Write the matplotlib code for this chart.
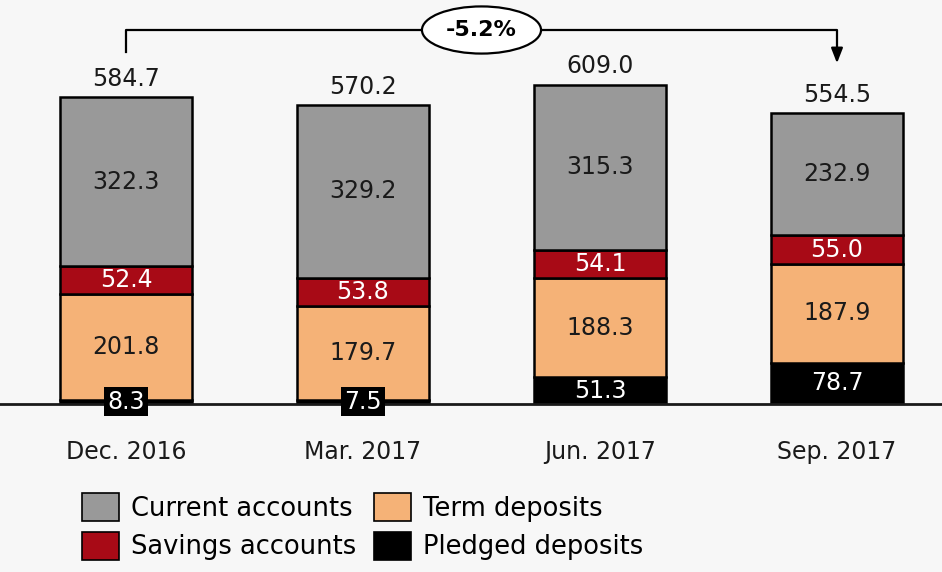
import matplotlib.pyplot as plt
import numpy as np
from matplotlib.patches import Patch

plt.rcParams["font.family"] = ["DejaVu Sans"]

periods = ["Dec. 2016", "Mar. 2017", "Jun. 2017", "Sep. 2017"]
pledged = np.array([8.3, 7.5, 51.3, 78.7])
term = np.array([201.8, 179.7, 188.3, 187.9])
savings = np.array([52.4, 53.8, 54.1, 55.0])
current = np.array([322.3, 329.2, 315.3, 232.9])
totals = np.array([584.7, 570.2, 609.0, 554.5])
change_label = "-5.2%"

c_current = "#999999"
c_savings = "#a80a16"
c_term = "#f5b277"
c_pledged = "#000000"
bg = "#f7f7f7"

fig = plt.figure(figsize=(9.42, 5.72), dpi=100, facecolor=bg)
ax = fig.add_axes([0, 168 / 572, 1, 404 / 572], facecolor=bg)

x = np.arange(len(periods))
width = 0.553

layers = [
    ("Pledged deposits", pledged, c_pledged),
    ("Term deposits", term, c_term),
    ("Savings accounts", savings, c_savings),
    ("Current accounts", current, c_current),
]

bottom = np.zeros(len(periods))
for name, vals, color in layers:
    ax.bar(x, vals, width, bottom=bottom, color=color, edgecolor="black",
           linewidth=1.8, label=name, zorder=2)
    for i, v in enumerate(vals):
        mid = bottom[i] + v / 2
        txt_color = "white" if color in (c_savings, c_pledged) else "#1a1a1a"
        if color == c_pledged and v < 20:
            # tiny segment: label sits in its own black box over the baseline
            ax.text(x[i], 4.5, f"{v:.1f}", ha="center", va="center",
                    fontsize=17, color="white", zorder=5,
                    bbox=dict(boxstyle="square,pad=0.12", fc="black", ec="none"))
        else:
            ax.text(x[i], mid, f"{v:.1f}", ha="center", va="center",
                    fontsize=17, color=txt_color, zorder=5)
    bottom += vals

for i, t in enumerate(totals):
    ax.text(x[i], t + 12, f"{t:.1f}", ha="center", va="bottom",
            fontsize=17, color="#1a1a1a")

# bracket showing change from first to last period
px = 0.5245  # pixels per unit
y_br = 374 / px
ax.plot([x[0], x[0], x[-1], x[-1]], [352 / px, y_br, y_br, 355 / px],
        color="black", lw=1.6, zorder=3, clip_on=False)
ax.annotate("", xy=(x[-1], 338 / px), xytext=(x[-1], 356 / px),
            arrowprops=dict(arrowstyle="-|>,head_width=0.35,head_length=0.9",
                            color="black", lw=1.6), annotation_clip=False)
ax.text((x[0] + x[-1]) / 2, y_br, change_label, ha="center", va="center",
        fontsize=16, fontweight="bold", zorder=6,
        bbox=dict(boxstyle="ellipse,pad=0.3", fc="white", ec="black", lw=1.6))

ax.set_xlim(-126 / 237, (942 - 126) / 237)
ax.set_ylim(0, 404 / px)
ax.set_xticks(x)
ax.set_xticklabels(periods, fontsize=17, color="#1a1a1a")
ax.tick_params(axis="x", length=0, pad=26)
ax.set_yticks([])
for s in ["top", "left", "right"]:
    ax.spines[s].set_visible(False)
ax.spines["bottom"].set_linewidth(2)
ax.spines["bottom"].set_color("#1a1a1a")

handles = [
    Patch(fc=c_current, ec="black", lw=1.2, label="Current accounts"),
    Patch(fc=c_savings, ec="black", lw=1.2, label="Savings accounts"),
    Patch(fc=c_term, ec="black", lw=1.2, label="Term deposits"),
    Patch(fc=c_pledged, ec="black", lw=1.2, label="Pledged deposits"),
]
fig.legend(handles=handles, ncol=2, loc="upper left",
           bbox_to_anchor=(82 / 942, 1 - 493 / 572), frameon=False,
           fontsize=18.5, handlelength=1.45, handleheight=1.3,
           handletextpad=0.45, columnspacing=0.7, labelspacing=0.4,
           borderpad=0, borderaxespad=0)

fig.savefig("out.png", dpi=100, facecolor=bg)
